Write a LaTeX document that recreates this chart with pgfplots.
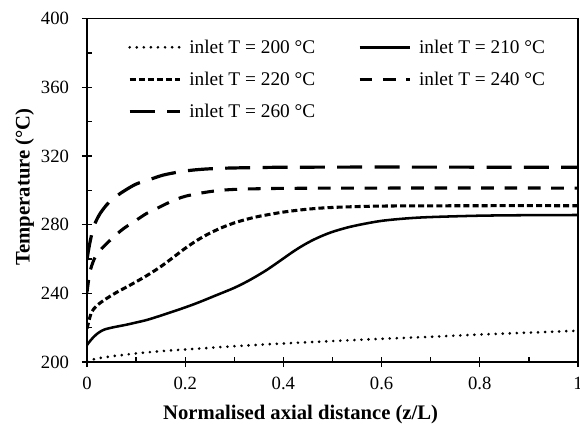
\documentclass[border=0pt]{standalone}
\usepackage{fontspec}
\setmainfont{Liberation Serif}
\usepackage{pgfplots}
\pgfplotsset{compat=1.18}
\begin{document}
\begin{tikzpicture}
\path[use as bounding box] (-65.25pt,-48pt) rectangle (369.75pt,271.5pt);
\begin{axis}[
  scale only axis, width=368.25pt, height=257.6pt,
  xmin=0, xmax=1, ymin=200, ymax=400,
  xtick={0,0.2,0.4,0.6,0.8,1}, ytick={200,240,280,320,360,400},
  minor x tick num=1, minor y tick num=1,
  xtick pos=bottom, ytick pos=left,
  tick align=inside, major tick length=3.75pt, minor tick length=3.4pt,
  extra x ticks={0,0.2,0.4,0.6,0.8,1}, extra x tick labels={},
  extra x tick style={tick align=outside},
  extra y ticks={200,240,280,320,360,400}, extra y tick labels={},
  extra y tick style={tick align=outside},
  axis line style={line width=1.2pt},
  tick style={line width=1pt, black},
  /pgf/number format/assume math mode=true,
  tick label style={font=\fontsize{14}{16}\selectfont},
  xticklabel style={yshift=-8pt},
  yticklabel style={xshift=-10pt},
  xlabel={Normalised axial distance (z/L)},
  ylabel={Temperature (°C)},
  label style={font=\fontsize{15.5}{18}\selectfont\bfseries},
  xlabel style={at={(axis description cs:0.435,-0.152)}, anchor=center},
  ylabel style={at={(axis description cs:-0.127,0.51)}, anchor=center},
  legend columns=2,
  legend cell align=left,
  legend image code/.code={\draw[#1] (0pt,0pt) -- (37.5pt,0pt);},
  legend style={draw=none, fill=none, at={(rel axis cs:0.075,0.955)}, anchor=north west,
    font=\fontsize{14.5}{16}\selectfont, row sep=8.5pt,
    /tikz/every odd column/.append style={column sep=4pt},
    /tikz/every even column/.append style={column sep=30pt}},
]
\addplot[black, line width=2.2pt, line cap=round, dash pattern=on 0pt off 5.3pt, smooth, tension=0.5] coordinates {
(0,200.5)(0.02,202)(0.05,203.3)(0.1,205)(0.15,206.3)(0.2,207.3)(0.3,209.2)(0.4,210.8)(0.5,212.2)(0.6,213.5)(0.7,214.7)(0.8,216)(0.9,217.1)(1,218.2)};
\addlegendentry{inlet T = 200 °C}
\addplot[black, line width=1.9pt, smooth, tension=0.5] coordinates {
(0,209.9)(0.007,212.5)(0.014,214.7)(0.02,216.3)(0.03,218.2)(0.04,219.3)(0.055,220.3)(0.08,221.7)(0.1,223)(0.122,224.5)(0.15,227)(0.2,231.8)(0.23,235)(0.26,238.5)(0.3,243.2)(0.33,247.5)(0.36,252.5)(0.38,256.3)(0.4,260.3)(0.42,264.3)(0.44,267.9)(0.46,271)(0.48,273.6)(0.5,275.8)(0.53,278.3)(0.56,280.2)(0.6,282.2)(0.65,283.6)(0.7,284.4)(0.8,285.2)(0.9,285.5)(1,285.6)};
\addlegendentry{inlet T = 210 °C}
\addplot[black, line width=2.3pt, dash pattern=on 4.5pt off 2.3pt, smooth, tension=0.5] coordinates {
(0,219.5)(0.004,224)(0.008,228)(0.014,231)(0.025,234)(0.04,237)(0.06,240.5)(0.088,244.8)(0.12,250)(0.15,255.5)(0.175,260.8)(0.2,266.2)(0.225,271)(0.25,275)(0.275,278.3)(0.3,281)(0.325,283.1)(0.35,284.8)(0.4,287.3)(0.45,289)(0.5,290)(0.6,290.8)(0.8,291)(1,291)};
\addlegendentry{inlet T = 220 °C}
\addplot[black, line width=2.3pt, dash pattern=on 9.5pt off 8pt, smooth, tension=0.5] coordinates {
(0,240.5)(0.003,247)(0.007,253.6)(0.012,258)(0.017,261.3)(0.025,264.5)(0.037,268.1)(0.055,273)(0.075,277.8)(0.1,282.5)(0.122,286.6)(0.15,290.5)(0.17,293.3)(0.2,296.5)(0.25,299.2)(0.3,300.5)(0.4,301.1)(0.6,301.3)(1,301.3)};
\addlegendentry{inlet T = 240 °C}
\addplot[black, line width=2.4pt, dash pattern=on 18.75pt off 9.25pt, smooth, tension=0.5] coordinates {
(0,259.5)(0.003,265)(0.007,271)(0.011,276)(0.015,279.8)(0.02,283)(0.027,286.6)(0.04,291.5)(0.054,295.3)(0.075,299.5)(0.1,303.6)(0.13,306.5)(0.156,308.9)(0.19,310.8)(0.217,311.8)(0.25,312.5)(0.3,313)(0.4,313.4)(0.6,313.5)(1,313.4)};
\addlegendentry{inlet T = 260 °C}
\end{axis}
\end{tikzpicture}
\end{document}
